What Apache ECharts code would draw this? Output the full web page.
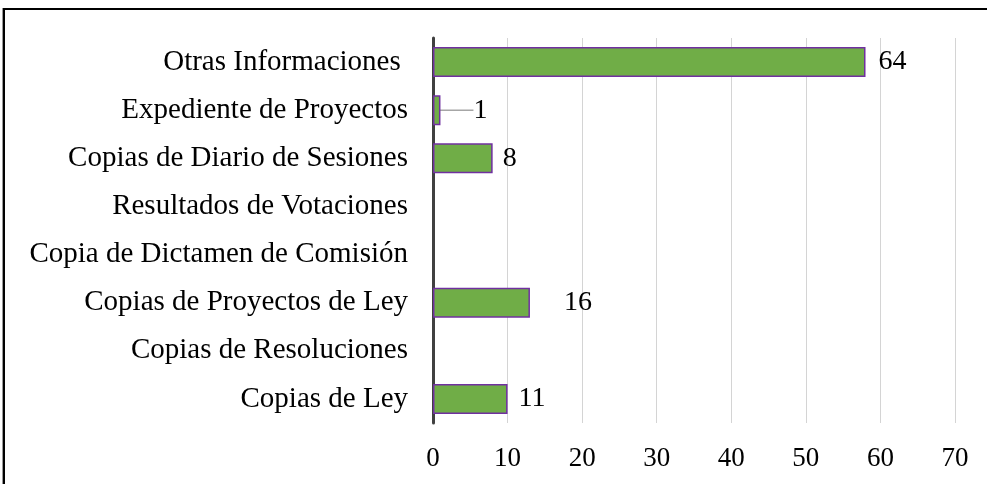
<!DOCTYPE html>
<html>
<head>
<meta charset="utf-8">
<script src="https://cdn.jsdelivr.net/npm/echarts@6/dist/echarts.min.js"></script>
<style>
html,body{margin:0;padding:0;background:#fff;}
#frame{position:absolute;left:3px;top:8px;width:990px;height:480px;border-top:2px solid #000;border-left:2px solid #000;box-shadow:-1px 0 0 #999;}
#chart{position:absolute;left:0;top:0;width:987px;height:484px;}
</style>
</head>
<body>
<div id="frame"></div>
<div id="chart"></div>
<script>
const categories = [
  'Otras Informaciones ',
  'Expediente de Proyectos',
  'Copias de Diario de Sesiones',
  'Resultados de Votaciones',
  'Copia de Dictamen de Comisión',
  'Copias de Proyectos de Ley',
  'Copias de Resoluciones',
  'Copias de Ley'
];
const barValues = [58, 1, 8, null, null, 13, null, 10];
const labelTexts = ['64', '1', '8', '', '', '16', '', '11'];
const xTicks = [0, 10, 20, 30, 40, 50, 60, 70];

const labelDistance = [13, 5, 10, 5, 5, 34, 5, 11];

const chart = echarts.init(document.getElementById('chart'), null, {renderer: 'canvas'});
const serif = '"Liberation Serif", "Times New Roman", serif';

const data = barValues.map((v, i) => {
  const item = {
    value: v,
    label: {distance: labelDistance[i]}
  };
  if (i === 1) item.labelLine = {show: true, lineStyle: {color: '#a6a6a6', width: 1.5}};
  return item;
});

chart.setOption({
  animation: false,
  grid: {left: 433, right: 32, top: 38, bottom: 61, containLabel: false},
  xAxis: {
    type: 'value',
    min: xTicks[0],
    max: xTicks[xTicks.length - 1],
    interval: 10,
    axisLine: {show: false},
    axisTick: {show: false},
    splitLine: {show: true, lineStyle: {color: '#d4d4d4', width: 1}},
    axisLabel: {margin: 22, color: '#000', fontFamily: serif, fontSize: 27}
  },
  yAxis: {
    type: 'category',
    inverse: true,
    data: categories,
    axisLine: {show: true, lineStyle: {color: '#404040', width: 3}},
    axisTick: {show: false},
    axisLabel: {margin: 25, color: '#000', fontFamily: serif, fontSize: 29}
  },
  series: [{
    type: 'bar',
    data: data,
    barWidth: 30,
    itemStyle: {color: '#70ad47', borderColor: '#7030a0', borderWidth: 1.5},
    label: {
      show: true,
      position: 'right',
      color: '#000',
      fontFamily: serif,
      fontSize: 28,
      formatter: p => labelTexts[p.dataIndex]
    },
    labelLayout: p => p.dataIndex === 1 ? {dx: 28} : {}
  }]
});
</script>
</body>
</html>
